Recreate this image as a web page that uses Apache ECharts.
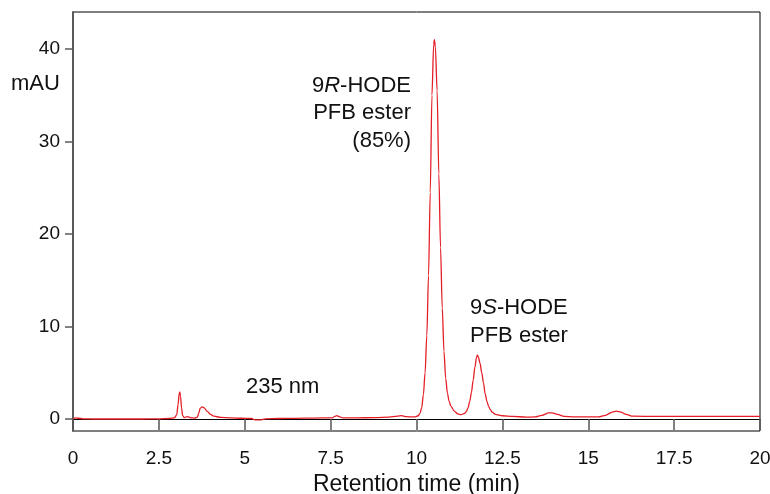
<!DOCTYPE html>
<html>
<head>
<meta charset="utf-8">
<title>9-HODE PFB ester chiral HPLC</title>
<script src="https://cdn.jsdelivr.net/npm/echarts@6/dist/echarts.min.js"></script>
<style>
  html, body { margin: 0; padding: 0; background: #fff; }
  #chart { width: 770px; height: 494px; }
</style>
</head>
<body>
<div id="chart"></div>
<script>
  // retention time (min) and absorbance (mAU)
  var retentionTime = [
    0, 0.08, 0.15, 0.3, 0.6, 1.0, 1.5, 2.0, 2.5, 2.8,
    2.95, 3.02, 3.06, 3.09, 3.11, 3.13, 3.16, 3.19, 3.24, 3.3,
    3.35, 3.42, 3.55, 3.62, 3.66, 3.7, 3.76, 3.82, 3.9, 4.0,
    4.1, 4.3, 4.6, 4.9, 5.2, 5.3, 5.45, 5.6, 6.0, 6.5,
    7.0, 7.55, 7.62, 7.68, 7.75, 7.85, 8.2, 8.8, 9.2, 9.45,
    9.56, 9.7, 9.95, 10.05, 10.1, 10.15, 10.2, 10.25, 10.3, 10.35,
    10.4, 10.45, 10.5, 10.52, 10.55, 10.6, 10.65, 10.7, 10.75, 10.8,
    10.85, 10.9, 10.95, 11.0, 11.1, 11.2, 11.3, 11.4, 11.45, 11.5,
    11.55, 11.6, 11.65, 11.7, 11.75, 11.77, 11.8, 11.85, 11.9, 11.95,
    12.0, 12.05, 12.1, 12.15, 12.2, 12.3, 12.5, 12.8, 13.2, 13.45,
    13.65, 13.85, 13.95, 14.1, 14.3, 14.6, 15.3, 15.5, 15.7, 15.82,
    15.95, 16.1, 16.3, 17, 18, 19, 20
  ];
  var absorbance = [
    0.0, 0.12, 0.08, 0.02, 0.0, 0.0, 0.0, 0.0, 0.02, 0.05,
    0.12, 0.45, 1.6, 2.7, 2.92, 2.5, 1.2, 0.4, 0.15, 0.22,
    0.25, 0.12, 0.1, 0.2, 0.6, 1.15, 1.3, 1.2, 0.85, 0.5,
    0.3, 0.18, 0.12, 0.08, 0.05, -0.1, -0.1, 0.02, 0.05, 0.07,
    0.1, 0.12, 0.28, 0.37, 0.25, 0.12, 0.12, 0.15, 0.2, 0.3,
    0.37, 0.25, 0.22, 0.35, 0.6, 1.2, 2.6, 5.0, 9.0, 15.5,
    24.5, 35.0, 40.5, 41.0, 40.2, 35.5, 26.5, 18.5, 12.0, 7.3,
    4.4, 2.8, 1.9, 1.4, 0.85, 0.55, 0.47, 0.6, 0.8, 1.2,
    1.9, 2.9, 4.2, 5.6, 6.7, 6.9, 6.7, 6.0, 5.0, 3.9,
    2.7, 1.9, 1.35, 1.0, 0.75, 0.5, 0.35, 0.28, 0.2, 0.22,
    0.4, 0.65, 0.66, 0.5, 0.28, 0.22, 0.22, 0.4, 0.75, 0.85,
    0.75, 0.5, 0.3, 0.28, 0.28, 0.28, 0.28
  ];
  var yTicks = [0, 10, 20, 30, 40];

  var trace = retentionTime.map(function (t, i) { return [t, absorbance[i]]; });

  var font = '"Liberation Sans", Arial, Helvetica, sans-serif';
  var textColor = '#111';
  var italic = { i: { fontStyle: 'italic', fontFamily: font, fontSize: 22, fill: textColor } };

  // one text element per line so lines can be right aligned on their own
  function label(txt, pos) {
    return {
      type: 'text',
      left: pos.left, right: pos.right, top: pos.top,
      style: { text: txt, font: '22px ' + font, fill: textColor, rich: italic }
    };
  }

  var chart = echarts.init(document.getElementById('chart'));

  chart.setOption({
    animation: false,
    backgroundColor: '#fff',
    grid: {
      left: 73, right: 10, top: 12, bottom: 63,
      outerBoundsMode: 'none',
      show: true, borderColor: '#000', borderWidth: 1
    },
    xAxis: {
      type: 'value',
      min: 0, max: 20, interval: 2.5,
      name: 'Retention time (min)',
      nameLocation: 'middle',
      nameGap: 40,
      nameTextStyle: { fontFamily: font, fontSize: 23, color: textColor },
      axisLine: { lineStyle: { color: '#000', width: 1 } },
      axisTick: { length: 11, lineStyle: { color: '#555', width: 1.5 } },
      axisLabel: { margin: 18, fontFamily: font, fontSize: 19, color: textColor },
      splitLine: { show: false }
    },
    yAxis: {
      type: 'value',
      min: -1.3, max: 44,
      axisLine: { show: true, lineStyle: { color: '#5a5a5a', width: 2 } },
      axisTick: { show: true, length: 8, customValues: yTicks, lineStyle: { color: '#5a5a5a', width: 1.5 } },
      axisLabel: { margin: 13, fontFamily: font, fontSize: 19, color: textColor, customValues: yTicks },
      splitLine: { show: false }
    },
    series: [{
      type: 'line',
      data: trace,
      showSymbol: false,
      smooth: 0.3,
      smoothMonotone: 'x',
      lineStyle: { color: '#e41e26', width: 1.3 },
      itemStyle: { color: '#e41e26' }
    }],
    graphic: [
      label('mAU', { left: 11, top: 73 }),
      label('9{i|R}-HODE', { right: 359, top: 75 }),
      label('PFB ester', { right: 359, top: 102 }),
      label('(85%)', { right: 359, top: 130 }),
      label('9{i|S}-HODE', { left: 470, top: 297 }),
      label('PFB ester', { left: 470, top: 325 }),
      label('235 nm', { left: 246, top: 376 })
    ]
  });
</script>
</body>
</html>
